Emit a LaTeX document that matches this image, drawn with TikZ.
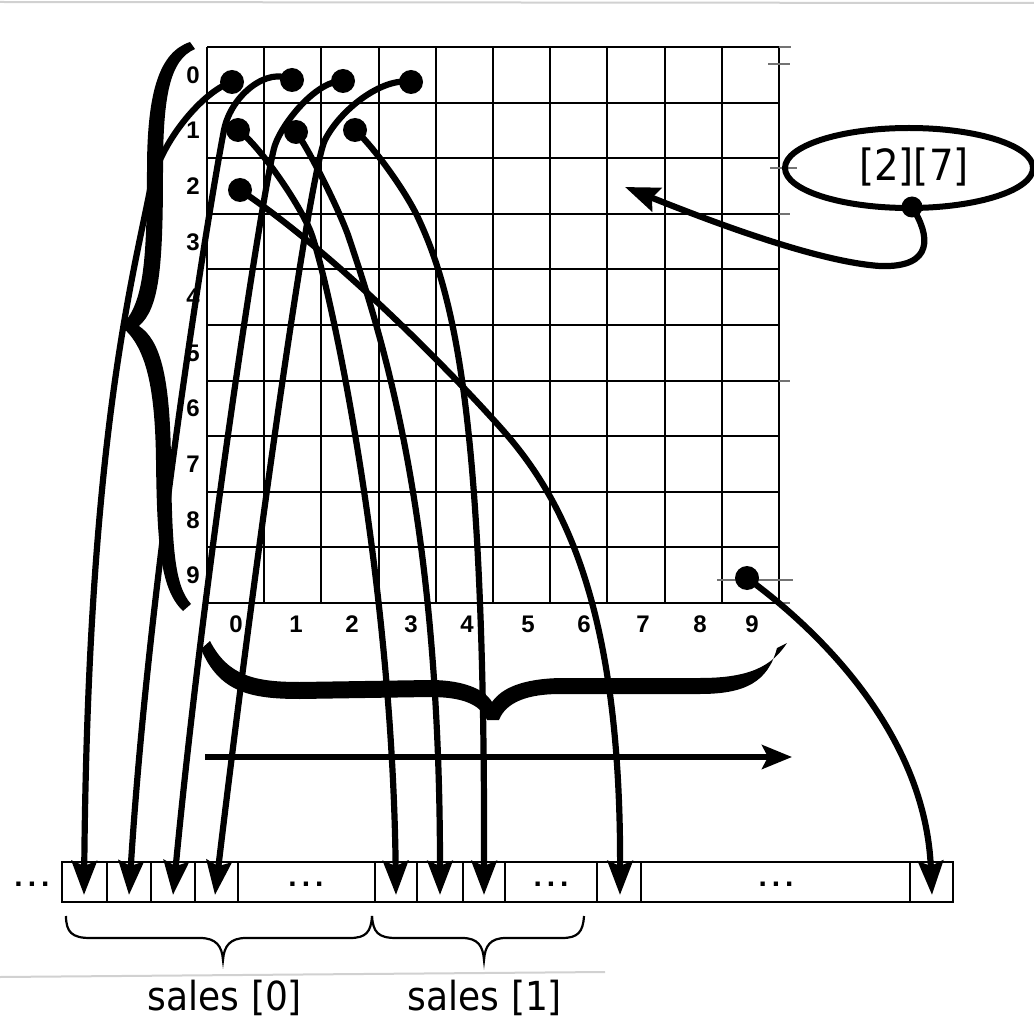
\documentclass[tikz,border=0pt]{standalone}
\usepackage{fontspec}
\setmainfont{Liberation Sans}
\newfontfamily\labfont[FakeStretch=0.9]{DejaVu Sans}
\usetikzlibrary{arrows.meta,shapes.geometric}
\begin{document}
\begin{tikzpicture}[x=1pt,y=-1pt,
  gridline/.style={line width=2.1pt},
  cellline/.style={line width=2.1pt},
  dotnode/.style={circle,fill=black,inner sep=0pt,minimum size=24pt},
  curve/.style={line width=6.2pt,-{Stealth[length=34pt,width=25pt,inset=5pt]}},
  numlab/.style={font=\bfseries\fontsize{24}{26}\selectfont,inner sep=0pt},
  ellip/.style={font=\bfseries\fontsize{30}{30}\selectfont,inner sep=0pt},
  thinbrace/.style={line width=2.2pt},
  artifact/.style={line width=1.4pt,black!55},
  scanline/.style={line width=2pt,black!18},
  bigbrace/.style={fill=black}]
\useasboundingbox (0,0) rectangle (1034,1024);
\fill[white] (0,0) rectangle (1034,1024);

% faint scan lines
\draw[scanline] (0,2) -- (1034,3);
\draw[scanline] (0,977) -- (605,972);

% grid
\foreach \i in {0,...,10} {
  \draw[gridline] ({207+57.2*\i},47) -- ({207+57.2*\i},603);
  \draw[gridline] (207,{47+55.6*\i}) -- (779,{47+55.6*\i});
}
% small marks right of grid
\draw[artifact] (779,47) -- (791,47);
\draw[artifact] (768,64) -- (790,64);
\draw[artifact] (770,168) -- (797,168);
\draw[artifact] (779,214) -- (790,214);
\draw[artifact] (779,381) -- (790,381);
\draw[artifact] (717,580) -- (793,580);
\draw[artifact] (779,603) -- (790,603);

% row labels
\foreach \i in {0,...,9}
  \node[numlab] (row\i) at (193,{75+55.6*\i}) {\i};
% column labels
\foreach \x [count=\i from 0] in {236,296,352,411,467,528,584,643,700,752}
  \node[numlab] (col\i) at (\x,624) {\i};

% left brace
\fill[bigbrace] (190,42) .. controls (160,52) and (147,90) .. (147,170)
  .. controls (147,265) and (143,305) .. (121,326)
  .. controls (144,345) and (155,380) .. (156,460)
  .. controls (157,548) and (161,590) .. (183,611)
  -- (191,604)
  .. controls (174,585) and (172,545) .. (171,460)
  .. controls (170,375) and (160,340) .. (139,326)
  .. controls (159,308) and (163,270) .. (163,170)
  .. controls (163,95) and (170,60) .. (195,49) -- cycle;

% bottom brace under grid
\fill[bigbrace] (210,641) .. controls (228,676) and (255,682) .. (300,682)
  -- (430,680) .. controls (465,680) and (485,690) .. (492,702)
  .. controls (502,688) and (522,679) .. (560,678)
  -- (700,678) .. controls (750,678) and (772,666) .. (787,643)
  -- (777,648) .. controls (768,682) and (745,694) .. (700,694)
  -- (560,694) .. controls (528,694) and (506,702) .. (499,720)
  -- (487,720) .. controls (480,704) and (462,697) .. (430,697)
  -- (300,699) .. controls (250,699) and (219,692) .. (201,649) -- cycle;

% horizontal arrow
\coordinate (hL) at (205,757);
\coordinate (hR) at (792,757);
\draw[line width=5.5pt,-{Stealth[length=30pt,width=24pt,inset=6pt]}] (hL) -- (hR);

% array
\draw[cellline] (62,862) rectangle (953,902);
\foreach \x in {107,151,195,238,375,417,463,505,597,641,910}
  \draw[cellline] (\x,862) -- (\x,902);
\node[ellip] (e0) at (32,884) {.\kern5pt.\kern5pt.};
\node[ellip] (e1) at (306,884) {.\kern5pt.\kern5pt.};
\node[ellip] (e2) at (551,884) {.\kern5pt.\kern5pt.};
\node[ellip] (e3) at (776,884) {.\kern5pt.\kern5pt.};

% arrow tips
\coordinate (t1) at (84,895);
\coordinate (t2) at (129,895);
\coordinate (t3) at (173,895);
\coordinate (t4) at (215,895);
\coordinate (t5) at (396,895);
\coordinate (t6) at (440,895);
\coordinate (t7) at (484,895);
\coordinate (t8) at (620,895);
\coordinate (t9) at (932,895);

% dots
\node[dotnode] (d00) at (232,82) {};
\node[dotnode] (d01) at (292,80) {};
\node[dotnode] (d02) at (343,81) {};
\node[dotnode] (d03) at (411,82) {};
\node[dotnode] (d10) at (238,130) {};
\node[dotnode] (d11) at (296,132) {};
\node[dotnode] (d12) at (355,130) {};
\node[dotnode] (d20) at (240,190) {};
\node[dotnode] (d99) at (747,578) {};

% curves
\draw[curve] (d00.center) .. controls (205,90) and (160,140) .. (150,190)
  .. controls (130,290) and (88,450) .. (t1);
\draw[curve] (d01.center) .. controls (268,66) and (231,95) .. (224,130)
  .. controls (214,180) and (150,560) .. (t2);
\draw[curve] (d02.center) .. controls (318,80) and (284,120) .. (275,145)
  .. controls (266,170) and (205,560) .. (t3);
\draw[curve] (d03.center) .. controls (382,77) and (340,110) .. (325,140)
  .. controls (310,170) and (255,560) .. (t4);
\draw[curve] (d10.center) .. controls (258,144) and (297,200) .. (310,230)
  .. controls (325,265) and (392,560) .. (t5);
\draw[curve] (d11.center) .. controls (308,148) and (337,205) .. (348,235)
  .. controls (385,345) and (440,520) .. (t6);
\draw[curve] (d12.center) .. controls (372,145) and (407,192) .. (420,222)
  .. controls (458,305) and (485,440) .. (t7);
\draw[curve] (d20.center) .. controls (330,250) and (440,360) .. (500,427)
  .. controls (560,494) and (621,600) .. (t8);
\draw[curve] (d99.center) .. controls (813,626) and (925,730) .. (t9);

% ellipse index
\node[ellipse,draw,line width=6pt,minimum width=248pt,minimum height=80pt,inner sep=0pt] (idx) at (909,168) {};
\node[font=\labfont\fontsize{43}{48}\selectfont,inner sep=0pt] (idxt) at (914,167) {[2][7]};
\node[dotnode,minimum size=21pt] (ed) at (912,207) {};
\coordinate (tj) at (625,187);
\draw[curve] (ed.center) .. controls (930,235) and (935,268) .. (880,266)
  .. controls (820,262) and (720,225) .. (tj);

% thin braces under array
\draw[thinbrace] (66,916) .. controls (66,932) and (72,938) .. (90,938)
  -- (200,938) .. controls (216,938) and (222,946) .. (223,960)
  .. controls (224,946) and (230,938) .. (246,938)
  -- (350,938) .. controls (366,938) and (371,932) .. (372,916);
\draw[thinbrace] (372,916) .. controls (373,932) and (378,938) .. (396,938)
  -- (462,938) .. controls (478,938) and (483,946) .. (484,960)
  .. controls (485,946) and (490,938) .. (506,938)
  -- (562,938) .. controls (578,938) and (583,932) .. (584,916);

% labels
\node[font=\labfont\fontsize{40}{44}\selectfont] (s0) at (225,998) {sales [0]};
\node[font=\labfont\fontsize{40}{44}\selectfont] (s1) at (485,998) {sales [1]};
\end{tikzpicture}
\end{document}
